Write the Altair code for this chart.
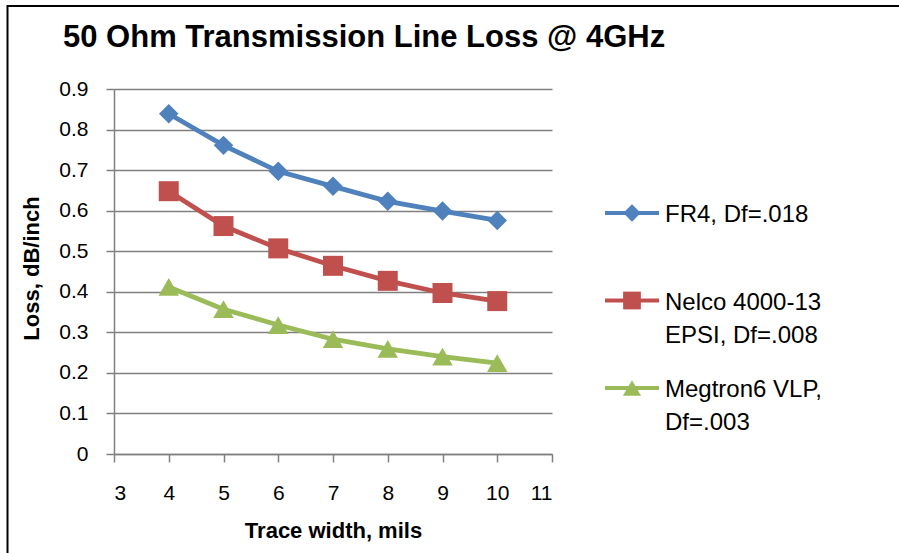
import altair as alt
import pandas as pd

# ---- data ----
chart_title = "50 Ohm Transmission Line Loss @ 4GHz"
trace_width = [4, 5, 6, 7, 8, 9, 10]
series_names = ["FR4, Df=.018", "Nelco 4000-13 EPSI, Df=.008", "Megtron6 VLP, Df=.003"]
legend_labels = ["FR4, Df=.018", "Nelco 4000-13\nEPSI, Df=.008", "Megtron6 VLP,\nDf=.003"]
fr4_loss = [0.839, 0.761, 0.697, 0.660, 0.623, 0.599, 0.576]
nelco_loss = [0.648, 0.562, 0.507, 0.464, 0.427, 0.397, 0.377]
megtron_loss = [0.412, 0.357, 0.318, 0.283, 0.259, 0.240, 0.224]
x_ticks = [3, 4, 5, 6, 7, 8, 9, 10, 11]
y_ticks = [0, 0.1, 0.2, 0.3, 0.4, 0.5, 0.6, 0.7, 0.8, 0.9]

colors = ["#4F81BD", "#C0504D", "#9BBB59"]
shapes = ["diamond", "square", "triangle-up"]

rows = []
for name, vals in zip(series_names, [fr4_loss, nelco_loss, megtron_loss]):
    for w, v in zip(trace_width, vals):
        rows.append({"series": name, "width": w, "loss": v})
df = pd.DataFrame(rows)
df_leg = pd.DataFrame({"series": series_names, "label": legend_labels})

FONT = "Liberation Sans"
GRID = "#808080"

color_enc = alt.Color("series:N", scale=alt.Scale(domain=series_names, range=colors), legend=None)
shape_enc = alt.Shape("series:N", scale=alt.Scale(domain=series_names, range=shapes), legend=None)

x_enc = alt.X(
    "width:Q",
    scale=alt.Scale(domain=[3, 11], nice=False, zero=False),
    axis=alt.Axis(
        values=x_ticks, grid=False, title="Trace width, mils", format="d",
        tickSize=8, labelPadding=20, labelBaseline="top",
        titleX=219, titleY=83, titleAlign="center", titleBaseline="alphabetic",
    ),
)
y_enc = alt.Y(
    "loss:Q",
    scale=alt.Scale(domain=[0, 0.9], nice=False),
    axis=alt.Axis(
        values=y_ticks, grid=True, title="Loss, dB/inch", format=".1~f",
        tickSize=8, labelPadding=18,
        titleX=-76, titleY=179, titleAlign="center", titleBaseline="alphabetic", titleAngle=270,
    ),
)

base = alt.Chart(df).encode(x=x_enc, y=y_enc, color=color_enc)
lines = base.mark_line(strokeWidth=4.8)
points = base.mark_point(filled=True, opacity=1).encode(
    shape=shape_enc,
    size=alt.Size("series:N", scale=alt.Scale(domain=series_names, range=[380, 420, 360]), legend=None),
)
main = alt.layer(lines, points)

leg_y = alt.Y("series:N", scale=alt.Scale(type="point", domain=series_names, range=[124, 299], padding=0), axis=None)
leg_rule = alt.Chart(df_leg).mark_rule(strokeWidth=4).encode(
    x=alt.value(491), x2=alt.value(545), y=leg_y, color=color_enc
)
leg_point = alt.Chart(df_leg).mark_point(filled=True, opacity=1).encode(
    x=alt.value(518), y=leg_y, color=color_enc,
    shape=shape_enc,
    size=alt.Size("series:N", scale=alt.Scale(domain=series_names, range=[300, 330, 300]), legend=None),
)
leg_text = alt.Chart(df_leg).mark_text(
    align="left", baseline="alphabetic", dy=9, fontSize=24, font=FONT,
    lineBreak="\n", lineHeight=33, color="black",
).encode(x=alt.value(551), y=leg_y, text="label:N")
legend = alt.layer(leg_rule, leg_point, leg_text).resolve_scale(size="independent")

# chart title, drawn as a text mark above the plot area
title_mark = alt.Chart(alt.Data(values=[{"t": chart_title}])).mark_text(
    align="left", baseline="alphabetic", fontSize=31, font=FONT, fontWeight="bold", color="black",
).encode(x=alt.value(-51), y=alt.value(-42.3), text="t:N")

frame = alt.Chart(alt.Data(values=[{"a": 1}])).mark_rect(
    fillOpacity=0, stroke="black", strokeWidth=2
).encode(x=alt.value(-106.5), x2=alt.value(1000), y=alt.value(-83), y2=alt.value(700))

chart = alt.layer(
    frame, title_mark, main, legend
).resolve_scale(
    y="independent", size="independent"
).properties(
    width=438,
    height=365,
    autosize=alt.AutoSizeParams(type="none"),
    padding={"left": 114, "top": 89, "right": 347, "bottom": 99},
).configure(
    font=FONT,
    background="white",
).configure_view(
    stroke=None,
).configure_axis(
    labelFont=FONT, labelFontSize=21, labelColor="black",
    titleFont=FONT, titleFontSize=22, titleFontWeight="bold", titleColor="black",
    gridColor=GRID, gridWidth=1.5, gridOpacity=1,
    domainColor=GRID, domainWidth=1.5,
    tickColor=GRID, tickWidth=1.5,
)

chart.save("out.html", embed_options={"renderer": "svg", "actions": False})
